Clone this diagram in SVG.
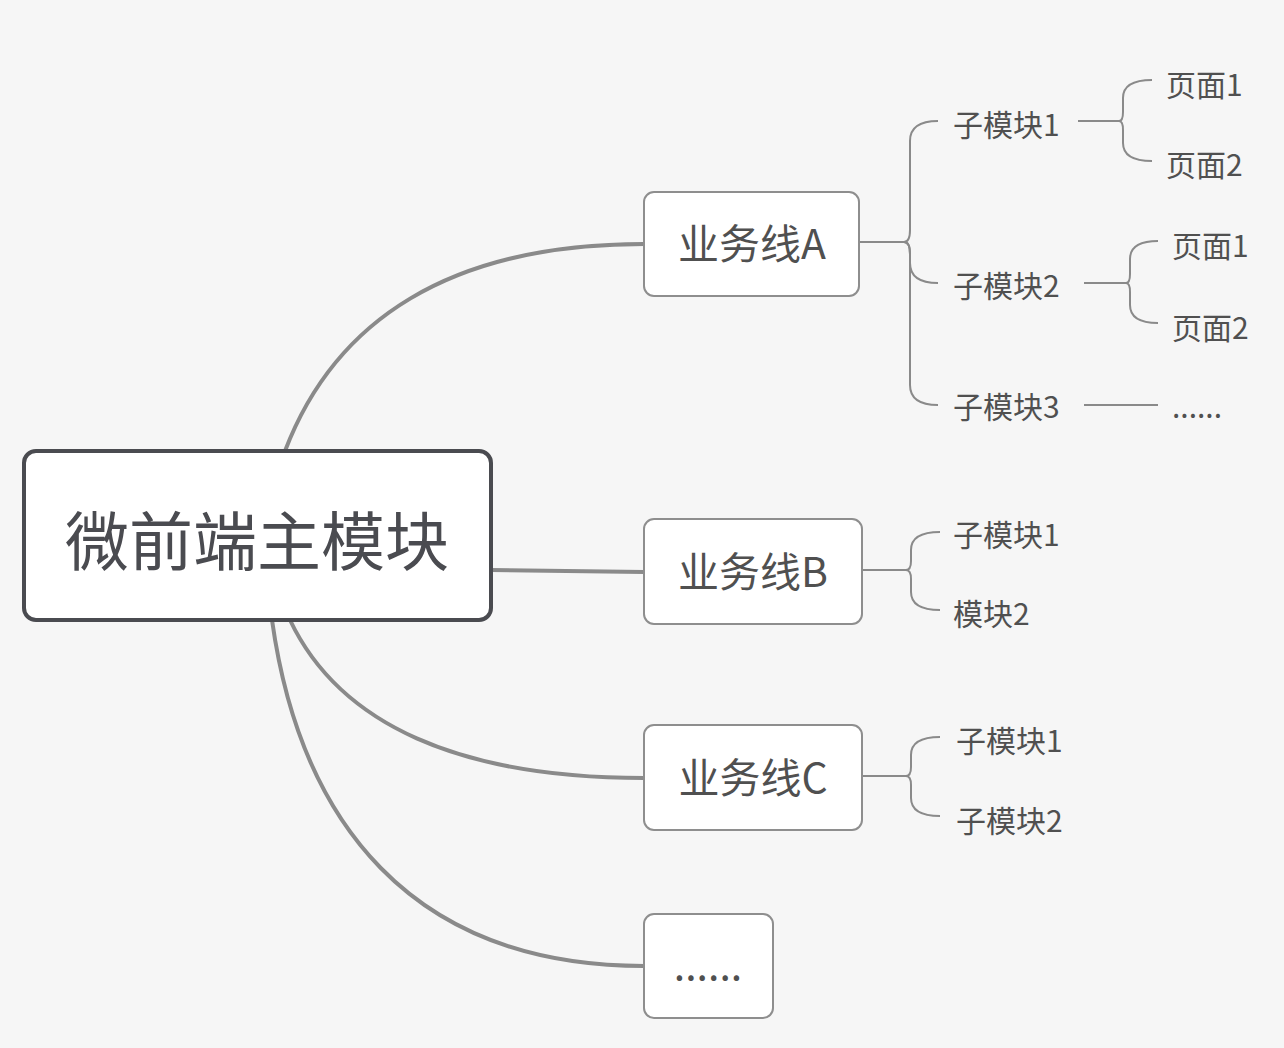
<svg xmlns="http://www.w3.org/2000/svg" width="1284" height="1048" viewBox="0 0 1284 1048">
<style>
.bg{fill:#f6f6f6}
.main{fill:#ffffff;stroke:#4a4b50;stroke-width:4}
.node{fill:#ffffff;stroke:#8e8e8e;stroke-width:2}
.t{font-family:"Noto Sans CJK SC","Noto Sans",sans-serif;fill:#505050}
.mt{font-family:"Noto Sans CJK SC","Noto Sans",sans-serif;fill:#4a4b50;font-size:64px}
.nt{font-size:41px}
.st{font-size:30px}
.thick{fill:none;stroke:#8a8a8a;stroke-width:4}
.thin{fill:none;stroke:#8a8a8a;stroke-width:2}
</style>
<rect class="bg" x="0" y="0" width="1284" height="1048"/>
<g id="connectors">
  <path class="thick" d="M285,451 C335,320 450,244 644,244"/>
  <path class="thick" d="M491,570 L644,572"/>
  <path class="thick" d="M290,620 C340,725 460,778 644,778"/>
  <path class="thick" d="M272,620 C300,820 410,966 644,966"/>
  <path class="thin" d="M859,242 H904"/>
  <path class="thin" d="M904,242 Q910,242 910,230 V141 Q910,121 938,121"/>
  <path class="thin" d="M904,242 Q910,242 910,254 V263 Q910,283 938,283"/>
  <path class="thin" d="M904,242 Q910,242 910,254 V385 Q910,405 938,405"/>
  <path class="thin" d="M1078,121 H1119"/>
  <path class="thin" d="M1119,121 Q1123,121 1123,112 V98 Q1123,80 1152,80"/>
  <path class="thin" d="M1119,121 Q1123,121 1123,130 V143 Q1123,161 1152,161"/>
  <path class="thin" d="M1084,283 H1126"/>
  <path class="thin" d="M1126,283 Q1130,283 1130,274 V259 Q1130,241 1158,241"/>
  <path class="thin" d="M1126,283 Q1130,283 1130,292 V305 Q1130,323 1158,323"/>
  <path class="thin" d="M1084,405 H1158"/>
  <path class="thin" d="M862,570 H906"/>
  <path class="thin" d="M906,570 Q911,570 911,561 V550 Q911,532 940,532"/>
  <path class="thin" d="M906,570 Q911,570 911,579 V592 Q911,610 940,610"/>
  <path class="thin" d="M862,776 H906"/>
  <path class="thin" d="M906,776 Q911,776 911,767 V755 Q911,737 940,737"/>
  <path class="thin" d="M906,776 Q911,776 911,785 V798 Q911,816 940,816"/>
</g>
<g id="main">
  <rect class="main" x="24" y="451" width="467" height="169" rx="12"/>
  <text class="mt" x="257" y="565" text-anchor="middle">微前端主模块</text>
</g>
<g id="lineA">
  <rect class="node" x="644" y="192" width="215" height="104" rx="10"/>
  <text class="t nt" x="752" y="259" text-anchor="middle">业务线A</text>
</g>
<g id="lineB">
  <rect class="node" x="644" y="519" width="218" height="105" rx="10"/>
  <text class="t nt" x="753" y="587" text-anchor="middle">业务线B</text>
</g>
<g id="lineC">
  <rect class="node" x="644" y="725" width="218" height="105" rx="10"/>
  <text class="t nt" x="753" y="793" text-anchor="middle">业务线C</text>
</g>
<g id="lineMore">
  <rect class="node" x="644" y="914" width="129" height="104" rx="10"/>
  <text class="t nt" x="708" y="980" text-anchor="middle">......</text>
</g>
<g id="A-sub1"><text class="t st" x="953" y="136">子模块1</text></g>
<g id="A-sub1-p1"><text class="t st" x="1166" y="96">页面1</text></g>
<g id="A-sub1-p2"><text class="t st" x="1166" y="176">页面2</text></g>
<g id="A-sub2"><text class="t st" x="953" y="297">子模块2</text></g>
<g id="A-sub2-p1"><text class="t st" x="1172" y="257">页面1</text></g>
<g id="A-sub2-p2"><text class="t st" x="1172" y="339">页面2</text></g>
<g id="A-sub3"><text class="t st" x="953" y="418">子模块3</text></g>
<g id="A-sub3-more"><text class="t st" x="1172" y="418">......</text></g>
<g id="B-sub1"><text class="t st" x="953" y="546">子模块1</text></g>
<g id="B-sub2"><text class="t st" x="953" y="625">模块2</text></g>
<g id="C-sub1"><text class="t st" x="956" y="752">子模块1</text></g>
<g id="C-sub2"><text class="t st" x="956" y="832">子模块2</text></g>
</svg>
